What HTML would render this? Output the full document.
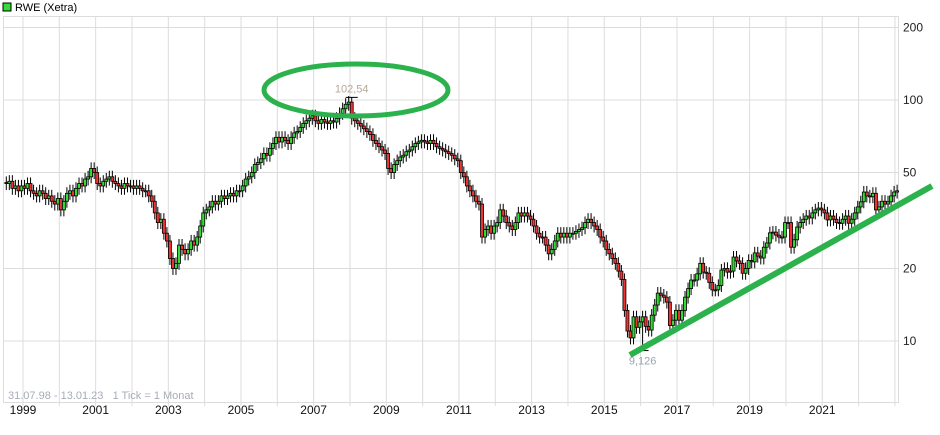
<!DOCTYPE html>
<html><head><meta charset="utf-8"><style>
body{margin:0;background:#fff;}
svg{display:block;font-family:"Liberation Sans",sans-serif;}
</style></head><body>
<svg id="chart" width="940" height="435">
<rect x="3" y="3" width="8" height="8" fill="#33dd33" stroke="#000" stroke-width="1"/>
<text x="15" y="11" font-size="11" fill="#000">RWE (Xetra)</text>
<g id="grid"></g>
<g id="candles"></g>
<text x="8" y="399" font-size="11" fill="#a8acb8">31.07.98 - 13.01.23&#160;&#160; 1 Tick = 1 Monat</text>
<g id="ann"></g>
</svg>
<script>
const yTicks=[200,100,50,20,10];
const years=[1999,2000,2001,2002,2003,2004,2005,2006,2007,2008,2009,2010,2011,2012,2013,2014,2015,2016,2017,2018,2019,2020,2021,2022,2023];
const yearLabels=[1999,2001,2003,2005,2007,2009,2011,2013,2015,2017,2019,2021];
const closes=[
45,46,43,44,42,44,
43,45,42,41,40,42,41,39,40,38,37,39,
35,38,41,42,40,43,45,44,47,48,52,50,
45,44,46,47,48,46,45,44,43,45,44,44,
43,44,43,42,42,40,38,34,31,32,28,26,
22,20,21,25,24,23,24,26,25,27,30,34,
35,36,38,37,38,40,39,40,41,40,42,42,
44,47,48,50,54,55,57,60,59,63,66,70,
67,70,68,66,70,73,74,77,80,82,84,86,
82,80,83,81,80,82,81,84,88,92,96,98,
84,82,80,78,76,74,72,68,66,64,62,60,
52,50,54,56,58,59,61,62,64,66,67,68,
67,66,68,66,64,63,62,61,60,59,57,56,
50,48,44,42,40,38,37,27,29,30,28,30,
31,35,33,31,30,29,31,34,33,34,33,32,
30,28,27,27,25,23,24,26,28,27,28,27,
28,28,28.5,29,29.5,31,32,31,30,29,27,26,
24,23,22,21,19.5,18,13.4,11,10.3,12.6,11.4,12,
12.6,11.5,11.1,12.8,14.1,15.8,15.5,15.2,14.5,11.6,12.2,13.4,
12.2,13.4,15.2,16.5,17.9,17.9,19,21,19.3,19.1,17.5,16.3,
16.3,17,19.7,20,19.3,19.5,22.3,21.5,21,19.1,20,21.6,
21.3,23.2,22.5,22.1,24.5,25.5,28.1,28.3,27.5,27,27,31,
31,24.5,26.3,29.7,31,32,33,32.4,34,35,35.6,35,
34,31.8,33,32,31,30.8,32,33,30.8,32,34,36,
37.8,41.5,40,39.7,41,35,36,38,37,37.8,40,41.5,
42];
const maxLabel="102,54", maxValue=102.54, maxIndex=114;
const minLabel="9,126", minValue=9.126, minIndex=210;

const NS="http://www.w3.org/2000/svg";
const L=3,R=898,T=16,B=402;
function yS(v){return 341-241*Math.log10(v/10);}
function xM(m){return 6.3+3.03*m;}
function xY(y){return 23+(y-1999)*36.33;}
function mk(tag,attrs,parent){const e=document.createElementNS(NS,tag);for(const k in attrs)e.setAttribute(k,attrs[k]);parent.appendChild(e);return e;}
const grid=document.getElementById('grid'),cg=document.getElementById('candles'),ann=document.getElementById('ann');
yTicks.forEach(v=>{
  const l=mk('line',{x1:L,x2:R,y1:yS(v),y2:yS(v),stroke:'#dcdcdc','stroke-width':1},grid);
  
  
  const t=mk('text',{x:903,y:yS(v)+4,'font-size':12,fill:'#222'},grid);
  t.textContent=v;
  
  
});
years.forEach(y=>{
  const l=mk('line',{x1:xY(y),x2:xY(y),y1:T,y2:B+4,stroke:'#dcdcdc','stroke-width':1},grid);
  
  
});
yearLabels.forEach(y=>{
  const t=mk('text',{x:xY(y),y:414,'font-size':12,fill:'#111','text-anchor':'middle'},grid);
  t.textContent=y;
  
  
});
const fr=mk('rect',{x:L+0.5,y:T+0.5,width:R-L,height:B-T,fill:'none',stroke:'#dcdcdc'},grid);


closes.forEach((c,i)=>{
  const o=i?closes[i-1]:c*1.01;
  const x=xM(i);
  let hi=Math.max(o,c)*1.06, lo=Math.min(o,c)*0.94;
  if(i===maxIndex)hi=maxValue;
  if(i===minIndex)lo=minValue;
  const w=mk('line',{x1:x,x2:x,y1:yS(hi),y2:yS(lo),stroke:'#000','stroke-width':1},cg);
  
  
  const top=yS(Math.max(o,c)),bot=yS(Math.min(o,c));
  const b=mk('rect',{x:x-1.5,y:top,width:3,height:Math.max(1,bot-top),fill:c>=o?'#33dd33':'#ee3333',stroke:'#000','stroke-width':0.8},cg);
  
  
});
let e=mk('line',{x1:xM(maxIndex)-6,x2:xM(maxIndex)+6,y1:yS(maxValue),y2:yS(maxValue),stroke:'#000'},ann);


e=mk('text',{x:xM(maxIndex),y:yS(maxValue)-5,'font-size':11,fill:'#b4a898','text-anchor':'middle'},ann);
e.textContent=maxLabel;


e=mk('line',{x1:xM(minIndex)-6,x2:xM(minIndex)+6,y1:yS(minValue),y2:yS(minValue),stroke:'#000'},ann);


e=mk('text',{x:xM(minIndex),y:yS(minValue)+14,'font-size':11,fill:'#9aa4b4','text-anchor':'middle'},ann);
e.textContent=minLabel;


e=mk('ellipse',{cx:356,cy:90,rx:92,ry:26,fill:'none',stroke:'#2bb24c','stroke-width':5},ann);


e=mk('line',{x1:630,y1:355,x2:932,y2:186,stroke:'#2bb24c','stroke-width':6},ann);


</script>
</body></html>
